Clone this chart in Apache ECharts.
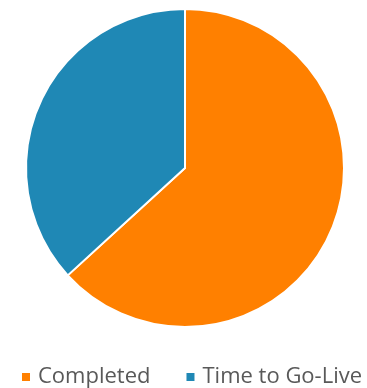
<!DOCTYPE html>
<html><head><meta charset="utf-8">
<script src="https://cdn.jsdelivr.net/npm/echarts@6/dist/echarts.min.js"></script>
<style>html,body{margin:0;padding:0;background:#fff}#c{width:367px;height:388px}</style>
</head><body><div id="c"></div>
<script>
const categories = ["Completed", "Time to Go-Live"];
const values = [63.2, 36.8];
const colors = ["#FF8000", "#1F88B5"];
const chart = echarts.init(document.getElementById('c'), null, {renderer: 'canvas'});
chart.setOption({
  animation: false,
  color: colors,
  legend: {
    data: categories,
    top: 361,
    left: 15,
    right: 0,
    width: 352,
    padding: 5,
    icon: 'rect',
    itemWidth: 10,
    itemHeight: 10,
    itemGap: 34,
    textStyle: {fontFamily: 'Open Sans', fontSize: 22, color: '#595959', padding: [0, 0, 0, 2]}
  },
  series: [{
    type: 'pie',
    center: [185, 168],
    radius: 159,
    startAngle: 90,
    clockwise: true,
    label: {show: false},
    labelLine: {show: false},
    itemStyle: {borderColor: '#fff', borderWidth: 2},
    data: categories.map((n, i) => ({name: n, value: values[i]}))
  }]
});
</script></body></html>
